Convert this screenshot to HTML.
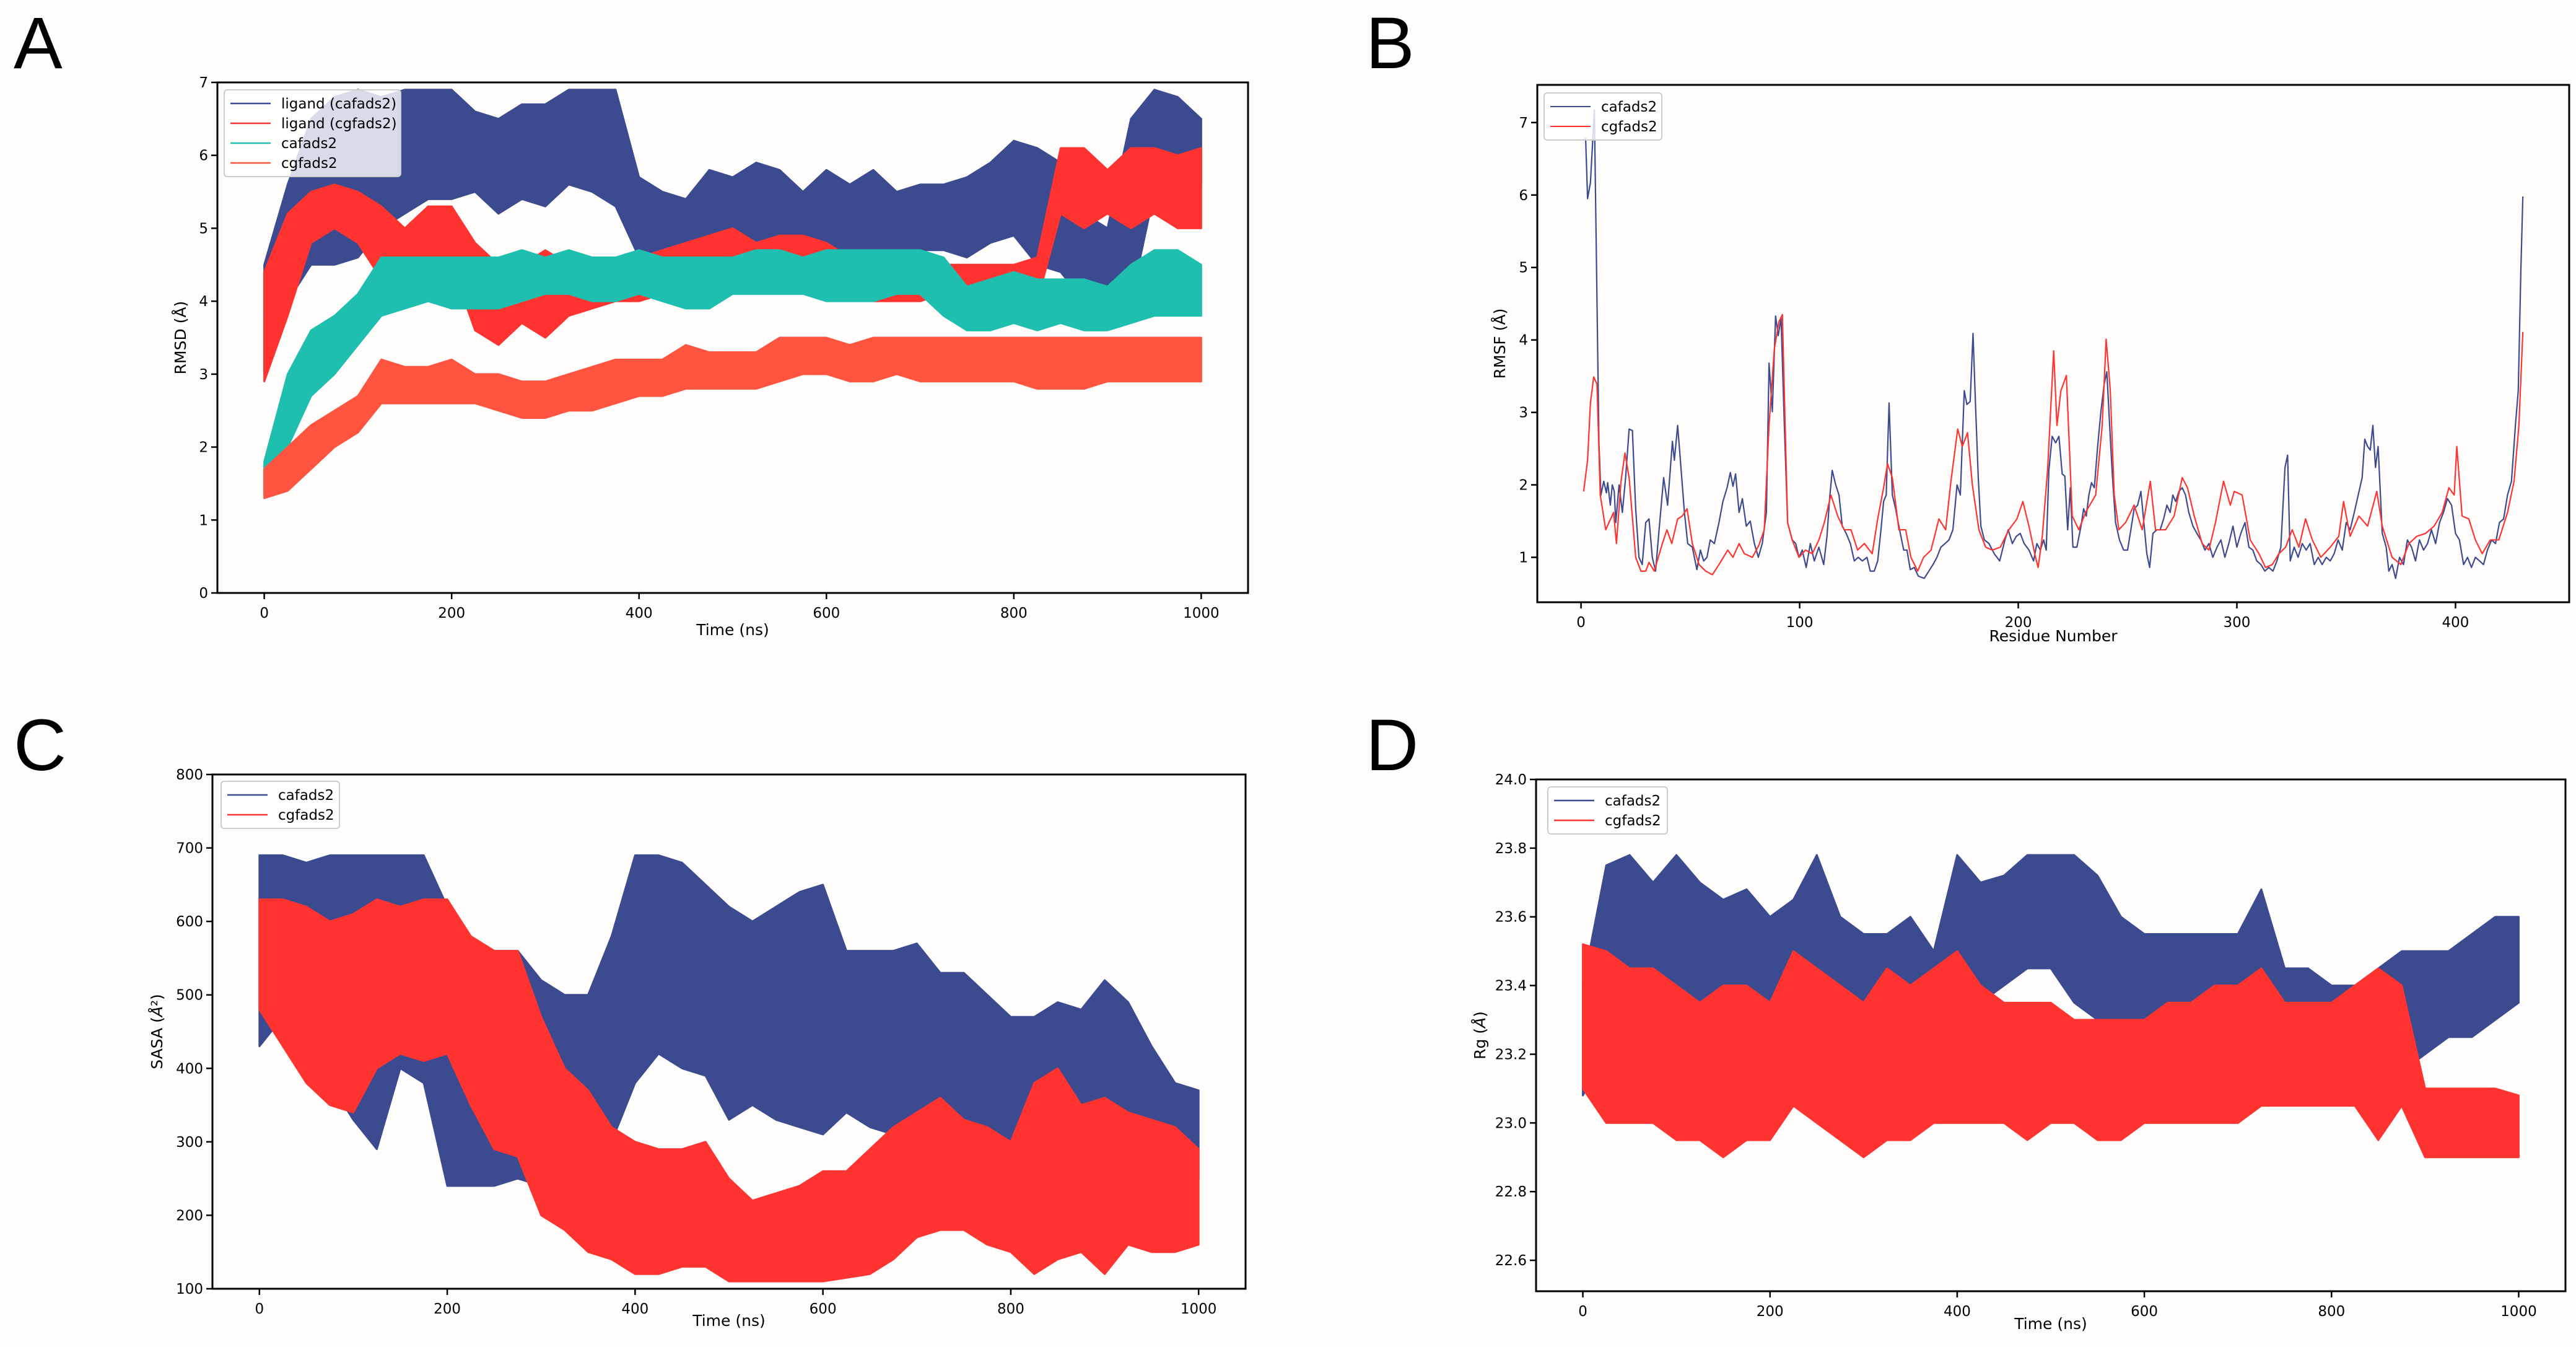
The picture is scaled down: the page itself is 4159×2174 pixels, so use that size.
<!DOCTYPE html>
<html><head><meta charset="utf-8">
<style>
html,body{margin:0;padding:0;background:#fffdfb;}
svg{display:block;font-family:"DejaVu Sans","Liberation Sans",sans-serif;}
</style></head>
<body>
<svg id="fig" width="4159" height="2174" viewBox="0 0 4159 2174" xmlns="http://www.w3.org/2000/svg">
<rect width="4159" height="2174" fill="#fffdfb"/>
<text x="22" y="110" font-size="118" font-family="Liberation Sans, sans-serif">A</text>
<text x="2205" y="110" font-size="118" font-family="Liberation Sans, sans-serif">B</text>
<text x="22" y="1243" font-size="118" font-family="Liberation Sans, sans-serif">C</text>
<text x="2205" y="1243" font-size="118" font-family="Liberation Sans, sans-serif">D</text>
</svg>
<script>
// ---------- Panel A (RMSD) ----------
const timeA = [0,25,50,75,100,125,150,175,200,225,250,275,300,325,350,375,400,425,450,475,500,525,550,575,600,625,650,675,700,725,750,775,800,825,850,875,900,925,950,975,1000];
const ligCaLo = [3.0,4.0,4.5,4.5,4.6,5.0,5.2,5.4,5.4,5.5,5.2,5.4,5.3,5.6,5.5,5.3,4.6,4.5,4.5,4.4,4.5,4.6,4.5,4.7,4.6,4.6,4.6,4.6,4.7,4.7,4.6,4.8,4.9,4.5,4.4,4.0,3.9,4.0,5.5,5.6,5.6];
const ligCaHi = [4.5,5.6,6.5,6.8,6.9,6.8,6.9,6.9,6.9,6.6,6.5,6.7,6.7,6.9,6.9,6.9,5.7,5.5,5.4,5.8,5.7,5.9,5.8,5.5,5.8,5.6,5.8,5.5,5.6,5.6,5.7,5.9,6.2,6.1,5.9,5.2,5.0,6.5,6.9,6.8,6.5];
const ligCgLo = [2.9,3.8,4.8,5.0,4.8,4.3,4.2,4.4,4.5,3.6,3.4,3.7,3.5,3.8,3.9,4.0,4.0,4.1,4.1,4.2,4.4,4.5,4.5,4.4,4.1,4.1,4.0,4.0,4.0,4.1,4.1,4.0,4.1,4.0,5.2,5.0,5.2,5.0,5.2,5.0,5.0];
const ligCgHi = [4.4,5.2,5.5,5.6,5.5,5.3,5.0,5.3,5.3,4.8,4.5,4.5,4.7,4.5,4.5,4.6,4.6,4.7,4.8,4.9,5.0,4.8,4.9,4.9,4.8,4.6,4.6,4.5,4.5,4.5,4.5,4.5,4.5,4.6,6.1,6.1,5.8,6.1,6.1,6.0,6.1];
const protCaLo = [1.4,2.0,2.7,3.0,3.4,3.8,3.9,4.0,3.9,3.9,3.9,4.0,4.1,4.1,4.0,4.0,4.1,4.0,3.9,3.9,4.1,4.1,4.1,4.1,4.0,4.0,4.0,4.1,4.1,3.8,3.6,3.6,3.7,3.6,3.7,3.6,3.6,3.7,3.8,3.8,3.8];
const protCaHi = [1.8,3.0,3.6,3.8,4.1,4.6,4.6,4.6,4.6,4.6,4.6,4.7,4.6,4.7,4.6,4.6,4.7,4.6,4.6,4.6,4.6,4.7,4.7,4.6,4.7,4.7,4.7,4.7,4.7,4.6,4.2,4.3,4.4,4.3,4.3,4.3,4.2,4.5,4.7,4.7,4.5];
const protCgLo = [1.3,1.4,1.7,2.0,2.2,2.6,2.6,2.6,2.6,2.6,2.5,2.4,2.4,2.5,2.5,2.6,2.7,2.7,2.8,2.8,2.8,2.8,2.9,3.0,3.0,2.9,2.9,3.0,2.9,2.9,2.9,2.9,2.9,2.8,2.8,2.8,2.9,2.9,2.9,2.9,2.9];
const protCgHi = [1.7,2.0,2.3,2.5,2.7,3.2,3.1,3.1,3.2,3.0,3.0,2.9,2.9,3.0,3.1,3.2,3.2,3.2,3.4,3.3,3.3,3.3,3.5,3.5,3.5,3.4,3.5,3.5,3.5,3.5,3.5,3.5,3.5,3.5,3.5,3.5,3.5,3.5,3.5,3.5,3.5];
const ticksA_x = [0,200,400,600,800,1000];
const ticksA_y = [0,1,2,3,4,5,6,7];

// ---------- Panel B (RMSF) ----------
const resCa = [2.1,3.0,4.3,6.1,8.2,9.1,10.4,11.6,12.2,13.4,14.3,15.2,15.9,17.4,18.9,20.4,22.0,23.5,25.0,26.5,28.0,29.6,31.1,32.6,34.1,35.7,37.8,39.6,41.8,42.7,44.2,45.7,47.3,48.8,50.9,53.0,54.6,56.1,57.6,59.1,61.0,63.1,64.9,66.8,68.3,69.5,70.7,72.3,73.8,75.6,77.4,79.3,81.1,82.9,84.8,86.0,87.5,89.0,90.2,91.5,93.0,94.5,96.6,98.2,99.7,101.2,103.0,104.9,106.7,108.8,111.0,112.5,113.7,114.9,116.5,118.0,119.5,121.3,123.2,125.0,126.8,128.7,130.8,132.3,134.1,135.7,137.2,138.4,139.6,140.9,142.4,143.9,145.7,147.6,149.1,150.6,152.4,154.3,157.0,159.1,161.0,162.8,164.6,166.5,168.3,170.1,172.0,173.5,175.3,176.5,178.0,179.3,180.5,181.7,182.9,184.5,186.6,189.0,191.5,193.9,195.4,197.3,199.1,200.9,202.7,204.9,207.0,208.5,210.1,211.6,212.8,214.0,215.5,217.1,218.6,220.1,221.3,222.6,223.8,225.0,226.8,228.7,229.9,231.1,232.3,233.5,234.8,236.3,237.8,239.3,240.5,241.8,243.0,244.5,246.3,248.2,250.0,251.5,253.0,254.6,256.1,257.6,258.8,260.1,261.6,263.4,264.9,266.5,268.0,269.5,270.7,272.0,273.5,275.0,276.5,278.0,279.9,281.7,283.5,285.4,287.2,289.0,290.9,292.7,294.5,296.3,298.2,300.0,301.8,303.7,305.5,307.3,309.1,311.0,312.8,314.6,316.5,318.3,320.1,322.0,323.2,324.4,326.2,328.0,329.9,331.7,333.5,335.4,337.2,339.0,340.9,342.7,344.5,346.3,348.2,350.0,351.8,353.7,355.5,357.3,358.5,359.8,361.0,362.2,363.4,364.6,366.5,368.3,369.5,371.0,372.6,374.4,376.2,378.0,379.9,381.7,383.5,385.4,387.2,389.0,390.9,392.7,394.5,396.3,398.2,400.0,401.8,403.7,405.5,407.3,409.1,411.0,412.8,414.6,416.5,418.3,420.1,422.0,423.8,425.6,427.4,428.7,429.9,430.8];
const rmsfCa = [6.79,5.95,6.17,7.17,2.58,1.86,2.05,1.89,2.03,1.72,2.0,1.91,1.48,2.0,1.62,2.1,2.77,2.75,1.67,1.0,0.9,1.48,1.53,1.0,0.81,1.38,2.1,1.72,2.6,2.34,2.82,2.24,1.62,1.19,1.14,0.83,1.1,0.95,1.0,1.24,1.19,1.48,1.77,1.96,2.17,1.98,2.15,1.62,1.81,1.43,1.5,1.19,1.0,1.19,1.62,3.68,3.01,4.33,4.06,4.3,2.82,1.48,1.24,1.19,1.0,1.1,0.86,1.19,0.95,1.14,0.9,1.29,1.81,2.2,2.0,1.86,1.43,1.33,1.19,0.95,1.0,0.95,1.0,0.81,0.81,0.95,1.38,1.77,1.86,3.13,1.86,1.67,1.38,1.1,1.1,0.83,0.86,0.74,0.71,0.81,0.9,1.0,1.14,1.19,1.24,1.38,2.0,1.86,3.3,3.11,3.15,4.09,3.06,2.1,1.43,1.24,1.19,1.05,0.95,1.24,1.38,1.19,1.29,1.33,1.19,1.1,0.95,1.19,1.1,1.24,1.1,2.2,2.67,2.58,2.67,2.15,2.12,1.38,1.96,1.14,1.14,1.43,1.67,1.57,1.86,2.03,1.96,2.53,3.01,3.39,3.56,2.82,2.15,1.48,1.24,1.1,1.1,1.38,1.67,1.72,1.91,1.43,1.05,0.86,1.33,1.38,1.38,1.53,1.72,1.62,1.86,1.77,1.91,1.96,1.86,1.62,1.43,1.33,1.24,1.1,1.19,1.0,1.14,1.24,1.0,1.19,1.43,1.14,1.33,1.48,1.14,1.1,0.95,0.9,0.81,0.86,0.81,0.95,1.14,2.24,2.41,0.95,1.14,1.0,1.19,1.1,1.19,0.9,1.0,0.9,1.0,0.95,1.05,1.24,1.1,1.48,1.38,1.62,1.86,2.1,2.63,2.53,2.48,2.82,2.24,2.53,1.33,1.14,0.81,0.9,0.71,1.0,0.9,1.24,1.14,0.95,1.24,1.1,1.19,1.38,1.19,1.48,1.62,1.81,1.72,1.33,1.24,0.9,1.0,0.86,1.0,0.95,0.9,1.1,1.24,1.19,1.48,1.53,1.86,2.05,2.82,3.3,4.97,5.98];
const resCg = [1.2,3.0,4.3,5.8,7.3,8.8,11.3,12.8,14.9,16.2,18.3,20.1,22.0,25.0,27.4,29.6,31.1,33.5,37.2,39.3,41.5,44.2,46.3,48.5,50.9,54.0,57.0,60.1,63.1,67.1,69.5,72.3,74.7,78.4,81.4,83.8,86.0,88.4,90.5,92.1,94.5,96.6,99.7,102.7,105.8,108.8,111.3,114.3,117.4,120.4,123.5,126.5,129.6,133.2,135.7,138.4,140.2,142.4,145.4,148.5,150.9,154.0,156.7,160.1,163.7,166.8,169.2,172.3,174.4,176.8,179.0,182.0,185.1,188.1,191.8,195.7,199.4,202.1,204.9,207.9,209.1,211.0,213.4,216.2,217.7,219.5,222.0,224.7,227.7,230.8,235.4,238.4,240.2,242.1,243.9,246.0,249.1,253.0,256.7,260.4,262.8,267.4,271.3,275.0,277.4,280.5,284.1,287.2,290.2,293.9,297.0,298.8,302.4,306.1,310.1,313.1,316.2,319.2,322.3,325.3,328.4,331.4,334.5,338.4,342.7,346.6,348.8,351.8,355.8,359.8,364.0,366.5,371.0,375.0,378.7,382.3,386.3,390.2,393.9,397.0,399.4,400.6,403.0,406.1,409.1,412.2,415.9,419.8,423.8,426.8,429.0,430.8];
const rmsfCg = [1.91,2.34,3.13,3.49,3.39,1.86,1.38,1.48,1.62,1.19,2.05,2.44,2.1,1.0,0.81,0.81,0.93,0.81,1.19,1.38,1.19,1.53,1.57,1.67,1.19,0.9,0.81,0.76,0.9,1.1,1.0,1.19,1.05,1.0,1.17,1.38,2.82,3.87,4.25,4.35,1.48,1.24,1.0,1.1,1.05,1.24,1.48,1.86,1.57,1.38,1.38,1.1,1.19,1.05,1.53,1.96,2.29,2.1,1.38,1.38,1.0,0.81,1.0,1.1,1.53,1.38,2.05,2.77,2.53,2.72,2.0,1.38,1.14,1.1,1.14,1.38,1.53,1.77,1.43,1.0,0.86,1.29,2.2,3.85,2.82,3.3,3.51,1.57,1.38,1.62,1.86,2.82,4.01,3.3,1.86,1.38,1.48,1.72,1.38,2.05,1.38,1.38,1.57,2.1,1.96,1.57,1.19,1.1,1.48,2.05,1.72,1.91,1.86,1.24,1.05,0.86,0.9,1.05,1.14,1.38,1.14,1.53,1.24,1.0,1.14,1.29,1.77,1.29,1.57,1.43,1.91,1.43,1.0,0.9,1.19,1.29,1.33,1.43,1.62,1.96,1.86,2.53,1.57,1.53,1.24,1.05,1.24,1.24,1.62,2.05,2.82,4.11];
const ticksB_x = [0,100,200,300,400];
const ticksB_y = [1,2,3,4,5,6,7];

// ---------- Panel C (SASA) ----------
const timeC = timeA;
const sasaCaLo = [430,470,400,380,330,290,400,380,240,240,240,250,240,270,280,300,380,420,400,390,330,350,330,320,310,340,320,310,300,300,300,280,250,270,260,280,280,290,280,250,250];
const sasaCaHi = [690,690,680,690,690,690,690,690,620,560,540,560,520,500,500,580,690,690,680,650,620,600,620,640,650,560,560,560,570,530,530,500,470,470,490,480,520,490,430,380,370];
const sasaCgLo = [480,430,380,350,340,400,420,410,420,350,290,280,200,180,150,140,120,120,130,130,110,110,110,110,110,115,120,140,170,180,180,160,150,120,140,150,120,160,150,150,160];
const sasaCgHi = [630,630,620,600,610,630,620,630,630,580,560,560,470,400,370,320,300,290,290,300,250,220,230,240,260,260,290,320,340,360,330,320,300,380,400,350,360,340,330,320,290];
const ticksC_x = [0,200,400,600,800,1000];
const ticksC_y = [100,200,300,400,500,600,700,800];

// ---------- Panel D (Rg) ----------
const timeD = timeA;
const rgCaLo = [23.08,23.2,23.2,23.2,23.15,23.2,23.2,23.25,23.2,23.25,23.2,23.25,23.2,23.25,23.25,23.2,23.3,23.35,23.4,23.45,23.45,23.35,23.3,23.25,23.25,23.2,23.25,23.2,23.2,23.25,23.1,23.1,23.1,23.1,23.05,23.15,23.2,23.25,23.25,23.3,23.35];
const rgCaHi = [23.4,23.75,23.78,23.7,23.78,23.7,23.65,23.68,23.6,23.65,23.78,23.6,23.55,23.55,23.6,23.5,23.78,23.7,23.72,23.78,23.78,23.78,23.72,23.6,23.55,23.55,23.55,23.55,23.55,23.68,23.45,23.45,23.4,23.4,23.45,23.5,23.5,23.5,23.55,23.6,23.6];
const rgCgLo = [23.1,23.0,23.0,23.0,22.95,22.95,22.9,22.95,22.95,23.05,23.0,22.95,22.9,22.95,22.95,23.0,23.0,23.0,23.0,22.95,23.0,23.0,22.95,22.95,23.0,23.0,23.0,23.0,23.0,23.05,23.05,23.05,23.05,23.05,22.95,23.05,22.9,22.9,22.9,22.9,22.9];
const rgCgHi = [23.52,23.5,23.45,23.45,23.4,23.35,23.4,23.4,23.35,23.5,23.45,23.4,23.35,23.45,23.4,23.45,23.5,23.4,23.35,23.35,23.35,23.3,23.3,23.3,23.3,23.35,23.35,23.4,23.4,23.45,23.35,23.35,23.35,23.4,23.45,23.4,23.1,23.1,23.1,23.1,23.08];
const ticksD_x = [0,200,400,600,800,1000];
const ticksD_y = [22.6,22.8,23.0,23.2,23.4,23.6,23.8,24.0];

const NS = 'http://www.w3.org/2000/svg';
const svg = document.getElementById('fig');
const NAVY = '#3c4a8f', RED = '#ff3330', TEAL = '#1fbfb0', ORANGE = '#ff5540';

function mk(tag, attrs, parent){
  const e = document.createElementNS(NS, tag);
  for (const k in attrs) e.setAttribute(k, attrs[k]);
  (parent||svg).appendChild(e);
  return e;
}
function scale(d0,d1,r0,r1){ return v => r0 + (v-d0)/(d1-d0)*(r1-r0); }

function axesFrame(g, box, xs, ys, xt, yt, xfmt, yfmt, xlabel, ylabel, ylabelX, xlabelY, name){
  const bg = mk('rect',{x:box.l,y:box.t,width:box.r-box.l,height:box.b-box.t,fill:'#fffdfb'},g);
  
  
  xt.forEach(v=>{
    const x = xs(v);
    const tk = mk('line',{x1:x,x2:x,y1:box.b,y2:box.b+10,stroke:'#000','stroke-width':2.5},g);
    
    
    const t = mk('text',{x:x,y:box.b+40,'font-size':23,'text-anchor':'middle',fill:'#000'},g);
    t.textContent = xfmt(v);
    
    
  });
  yt.forEach(v=>{
    const y = ys(v);
    const tk = mk('line',{x1:box.l-10,x2:box.l,y1:y,y2:y,stroke:'#000','stroke-width':2.5},g);
    
    
    const t = mk('text',{x:box.l-15,y:y+8,'font-size':23,'text-anchor':'end',fill:'#000'},g);
    t.textContent = yfmt(v);
    
    
  });
  const xl = mk('text',{x:(box.l+box.r)/2,y:xlabelY,'font-size':25,'text-anchor':'middle',fill:'#000'},g);
  xl.textContent = xlabel;
  
  
  const cy = (box.t+box.b)/2;
  const yl = mk('text',{x:ylabelX,y:cy,'font-size':25,'text-anchor':'middle',fill:'#000',transform:`rotate(-90 ${ylabelX} ${cy})`},g);
  yl.innerHTML = ylabel;
  
  
}
function border(g, box, name){
  const b = mk('rect',{x:box.l,y:box.t,width:box.r-box.l,height:box.b-box.t,fill:'none',stroke:'#000','stroke-width':3},g);
  
  
}
function band(g, xsArr, lo, hi, xs, ys, color, name){
  let pts = [];
  for (let i=0;i<xsArr.length;i++) pts.push(xs(xsArr[i])+','+ys(hi[i]));
  for (let i=xsArr.length-1;i>=0;i--) pts.push(xs(xsArr[i])+','+ys(lo[i]));
  const p = mk('polygon',{points:pts.join(' '),fill:color,stroke:color,'stroke-width':3,'stroke-linejoin':'round'},g);
  
  
}
function line(g, xsArr, vals, xs, ys, color, w, name){
  const pts = xsArr.map((x,i)=>xs(x)+','+ys(vals[i])).join(' ');
  const p = mk('polyline',{points:pts,fill:'none',stroke:color,'stroke-width':w,'stroke-linejoin':'round'},g);
  
  
}
function legend(g, x, y, w, entries, rowH, name){
  const box = mk('rect',{x:x,y:y,width:w,height:rowH*entries.length+12,rx:5,fill:'#ffffff','fill-opacity':0.8,stroke:'#cccccc','stroke-width':2},g);
  
  
  entries.forEach((e,i)=>{
    const cy = y+6+rowH*(i+0.5);
    const l = mk('line',{x1:x+10,x2:x+75,y1:cy,y2:cy,stroke:e[1],'stroke-width':e[2]||2.5},g);
    
    
    const t = mk('text',{x:x+92,y:cy+8,'font-size':23,fill:'#000'},g);
    t.textContent = e[0];
    
    
  });
}

// Panel A
(function(){
  const g = mk('g',{});  
  const box = {l:351,r:2015,t:133,b:957};
  const xs = scale(-50,1050,box.l,box.r), ys = scale(0,7,box.b,box.t);
  axesFrame(g, box, xs, ys, ticksA_x, ticksA_y, v=>String(v), v=>String(v), 'Time (ns)', 'RMSD (Å)', 300, 1025, 'panel-a');
  band(g, timeA, ligCaLo, ligCaHi, xs, ys, NAVY, 'ligand-cafads2-series');
  band(g, timeA, ligCgLo, ligCgHi, xs, ys, RED, 'ligand-cgfads2-series');
  band(g, timeA, protCaLo, protCaHi, xs, ys, TEAL, 'cafads2-series');
  band(g, timeA, protCgLo, protCgHi, xs, ys, ORANGE, 'cgfads2-series');
  border(g, box, 'panel-a');
  legend(g, 362, 145, 285, [['ligand (cafads2)',NAVY],['ligand (cgfads2)',RED],['cafads2',TEAL],['cgfads2',ORANGE]], 32, 'panel-a');
})();

// Panel B
(function(){
  const g = mk('g',{});  
  const box = {l:2482,r:4148,t:137,b:972};
  const xs = scale(-20,452,box.l,box.r), ys = scale(0.38,7.52,box.b,box.t);
  axesFrame(g, box, xs, ys, ticksB_x, ticksB_y, v=>String(v), v=>String(v), 'Residue Number', 'RMSF (Å)', 2430, 1035, 'panel-b');
  line(g, resCa, rmsfCa, xs, ys, NAVY, 2.2, 'cafads2-rmsf-line');
  line(g, resCg, rmsfCg, xs, ys, RED, 2.2, 'cgfads2-rmsf-line');
  border(g, box, 'panel-b');
  legend(g, 2493, 150, 190, [['cafads2',NAVY,2],['cgfads2',RED,2]], 32, 'panel-b');
})();

// Panel C
(function(){
  const g = mk('g',{});  
  const box = {l:343,r:2011,t:1250,b:2080};
  const xs = scale(-50,1050,box.l,box.r), ys = scale(100,800,box.b,box.t);
  axesFrame(g, box, xs, ys, ticksC_x, ticksC_y, v=>String(v), v=>String(v), 'Time (ns)', 'SASA (<tspan font-style="italic">Å</tspan>²)', 262, 2140, 'panel-c');
  band(g, timeC, sasaCaLo, sasaCaHi, xs, ys, NAVY, 'cafads2-sasa-series');
  band(g, timeC, sasaCgLo, sasaCgHi, xs, ys, RED, 'cgfads2-sasa-series');
  border(g, box, 'panel-c');
  legend(g, 357, 1261, 191, [['cafads2',NAVY],['cgfads2',RED]], 32, 'panel-c');
})();

// Panel D
(function(){
  const g = mk('g',{});  
  const box = {l:2480,r:4142,t:1258,b:2084};
  const xs = scale(-50,1050,box.l,box.r), ys = scale(22.51,24.0,box.b,box.t);
  axesFrame(g, box, xs, ys, ticksD_x, ticksD_y, v=>String(v), v=>v.toFixed(1), 'Time (ns)', 'Rg (<tspan font-style="italic">Å</tspan>)', 2398, 2145, 'panel-d');
  band(g, timeD, rgCaLo, rgCaHi, xs, ys, NAVY, 'cafads2-rg-series');
  band(g, timeD, rgCgLo, rgCgHi, xs, ys, RED, 'cgfads2-rg-series');
  border(g, box, 'panel-d');
  legend(g, 2499, 1270, 193, [['cafads2',NAVY],['cgfads2',RED]], 32, 'panel-d');
})();
</script>
</body></html>
